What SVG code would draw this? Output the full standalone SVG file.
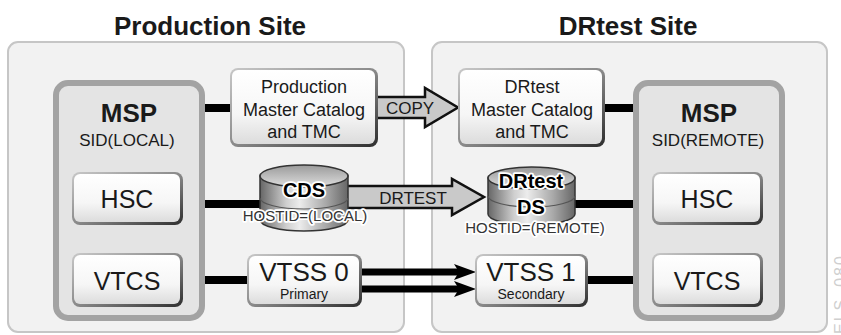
<svg xmlns="http://www.w3.org/2000/svg" width="841" height="335" viewBox="0 0 841 335">
<style>
text{font-family:"Liberation Sans",Arial,sans-serif;text-anchor:middle;fill:#1a1a1a}
.title{font-size:26px;font-weight:bold}
.site{fill:#f2f2f2;stroke:#c6c6c6;stroke-width:2}
.msp{fill:#e4e4e4;stroke:#a3a3a3;stroke-width:6}
.bevel{fill:url(#bev)}
.face{fill:url(#face)}
.conn{stroke:#000;stroke-width:8;fill:none}
.fat{fill:#c9c9c9;stroke:#111;stroke-width:2.5;stroke-linejoin:miter}
.halo{stroke:#fff;stroke-width:3.5;paint-order:stroke;stroke-linejoin:round}
.cyl{fill:url(#cylg);stroke:#333;stroke-width:1.5}
.cyltop{fill:url(#cyltop);stroke:#333;stroke-width:1.5}
.band{fill:none;stroke:#555;stroke-width:1.2}
</style>
<defs>
<linearGradient id="bev" x1="0" y1="0" x2="1" y2="1">
<stop offset="0" stop-color="#c8c8c8"/><stop offset="0.5" stop-color="#8a8a8a"/><stop offset="1" stop-color="#2e2e2e"/>
</linearGradient>
<linearGradient id="face" x1="0" y1="0" x2="0" y2="1">
<stop offset="0" stop-color="#ffffff"/><stop offset="0.6" stop-color="#f6f6f6"/><stop offset="1" stop-color="#dcdcdc"/>
</linearGradient>
<linearGradient id="cylg" x1="0" y1="0" x2="1" y2="0">
<stop offset="0" stop-color="#666"/><stop offset="0.3" stop-color="#cfcfcf"/><stop offset="0.45" stop-color="#ececec"/><stop offset="0.75" stop-color="#a8a8a8"/><stop offset="1" stop-color="#666"/>
</linearGradient>
<linearGradient id="cyltop" x1="0" y1="0" x2="0" y2="1">
<stop offset="0" stop-color="#9a9a9a"/><stop offset="1" stop-color="#dedede"/>
</linearGradient>
<marker id="ah" markerUnits="userSpaceOnUse" markerWidth="22" markerHeight="16" refX="8" refY="8" orient="auto">
<path d="M0,0 L22,8 L0,16 L5,8 z" fill="#000"/>
</marker>
</defs>

<rect width="841" height="335" fill="#fff"/>

<g id="production-site">
<rect class="site" x="8" y="42" width="396" height="290" rx="10"/>
<text class="title" x="210" y="35">Production Site</text>
</g>
<g id="drtest-site">
<rect class="site" x="432" y="42" width="395" height="290" rx="10"/>
<text class="title" x="628" y="35">DRtest Site</text>
</g>

<g id="connectors">
<line class="conn" x1="205" y1="108" x2="232" y2="108"/>
<line class="conn" x1="603" y1="108" x2="636" y2="108"/>
<line class="conn" x1="183" y1="204" x2="264" y2="204"/>
<line class="conn" x1="573" y1="204" x2="654" y2="204"/>
<line class="conn" x1="183" y1="280" x2="249" y2="280"/>
<line class="conn" x1="586" y1="280" x2="654" y2="280"/>
<polygon class="fat" points="374,97 425,97 425,88 458,107.5 425,127 425,118 374,118"/>
<text x="410" y="114" style="font-size:17px">COPY</text>
<polygon class="fat" points="344,186 452,186 452,179 484,197 452,215 452,208 344,208"/>
<text x="413" y="204" style="font-size:17px">DRTEST</text>
<line stroke="#000" stroke-width="7" x1="360" y1="272" x2="462" y2="272" marker-end="url(#ah)"/>
<line stroke="#000" stroke-width="7" x1="360" y1="289" x2="462" y2="289" marker-end="url(#ah)"/>
</g>

<g id="msp-local">
<rect class="msp" x="56" y="83" width="146" height="235" rx="12"/>
<text x="129" y="122" style="font-size:26px;font-weight:bold">MSP</text>
<text x="127" y="146" style="font-size:17px">SID(LOCAL)</text>
</g>
<g id="hsc-local">
<rect class="bevel" x="72" y="172" width="111" height="53" rx="8"/>
<rect class="face" x="74" y="174" width="106" height="48" rx="6"/>
<text x="127" y="208" style="font-size:25px">HSC</text>
</g>
<g id="vtcs-local">
<rect class="bevel" x="72" y="253" width="111" height="54" rx="8"/>
<rect class="face" x="74" y="255" width="106" height="49" rx="6"/>
<text x="127" y="290" style="font-size:25px">VTCS</text>
</g>

<g id="prod-catalog">
<rect class="bevel" x="230" y="68" width="148" height="79" rx="8"/>
<rect class="face" x="232" y="70" width="143" height="74" rx="6"/>
<text x="304" y="93" style="font-size:18px">Production</text>
<text x="304" y="116" style="font-size:18px">Master Catalog</text>
<text x="304" y="138" style="font-size:18px">and TMC</text>
</g>

<g id="cds">
<path class="cyl" d="M260,176 L260,220 A44,11 0 0 0 348,220 L348,176 z"/>
<path class="band" d="M260,198 A44,11 0 0 0 348,198"/>
<ellipse class="cyltop" cx="304" cy="176" rx="44" ry="11"/>
<text class="halo" x="304" y="197" style="font-size:20px;font-weight:bold;fill:#000">CDS</text>
<text class="halo" x="305" y="221" style="font-size:15px;fill:#333">HOSTID=(LOCAL)</text>
</g>

<g id="vtss0">
<rect class="bevel" x="247" y="254" width="115" height="53" rx="8"/>
<rect class="face" x="249" y="256" width="110" height="48" rx="6"/>
<text x="304" y="281" style="font-size:26px">VTSS 0</text>
<text x="304" y="299" style="font-size:14px">Primary</text>
</g>

<g id="drtest-catalog">
<rect class="bevel" x="458" y="68" width="147" height="79" rx="8"/>
<rect class="face" x="460" y="70" width="142" height="74" rx="6"/>
<text x="532" y="93" style="font-size:18px">DRtest</text>
<text x="532" y="116" style="font-size:18px">Master Catalog</text>
<text x="532" y="138" style="font-size:18px">and TMC</text>
</g>

<g id="drtest-ds">
<path class="cyl" d="M488,178 L488,214 A43.5,11 0 0 0 575,214 L575,178 z"/>
<path class="band" d="M488,196 A43.5,11 0 0 0 575,196"/>
<ellipse class="cyltop" cx="531.5" cy="178" rx="43.5" ry="11"/>
<text class="halo" x="531" y="188" style="font-size:20px;font-weight:bold;fill:#000">DRtest</text>
<text class="halo" x="531" y="214" style="font-size:20px;font-weight:bold;fill:#000">DS</text>
<text class="halo" x="535" y="233" style="font-size:15px;fill:#333">HOSTID=(REMOTE)</text>
</g>

<g id="vtss1">
<rect class="bevel" x="475" y="254" width="113" height="53" rx="8"/>
<rect class="face" x="477" y="256" width="108" height="48" rx="6"/>
<text x="531" y="281" style="font-size:26px">VTSS 1</text>
<text x="531" y="299" style="font-size:14px">Secondary</text>
</g>

<g id="msp-remote">
<rect class="msp" x="636" y="83" width="146" height="235" rx="12"/>
<text x="709" y="122" style="font-size:26px;font-weight:bold">MSP</text>
<text x="708" y="146" style="font-size:17px">SID(REMOTE)</text>
</g>
<g id="hsc-remote">
<rect class="bevel" x="652" y="172" width="111" height="53" rx="8"/>
<rect class="face" x="654" y="174" width="106" height="48" rx="6"/>
<text x="707" y="208" style="font-size:25px">HSC</text>
</g>
<g id="vtcs-remote">
<rect class="bevel" x="652" y="253" width="111" height="54" rx="8"/>
<rect class="face" x="654" y="255" width="106" height="49" rx="6"/>
<text x="707" y="290" style="font-size:25px">VTCS</text>
</g>

<text transform="translate(846,334) rotate(-90)" style="font-size:16px;fill:#cfcfcf;text-anchor:start;letter-spacing:2px">ELS_080</text>
</svg>
